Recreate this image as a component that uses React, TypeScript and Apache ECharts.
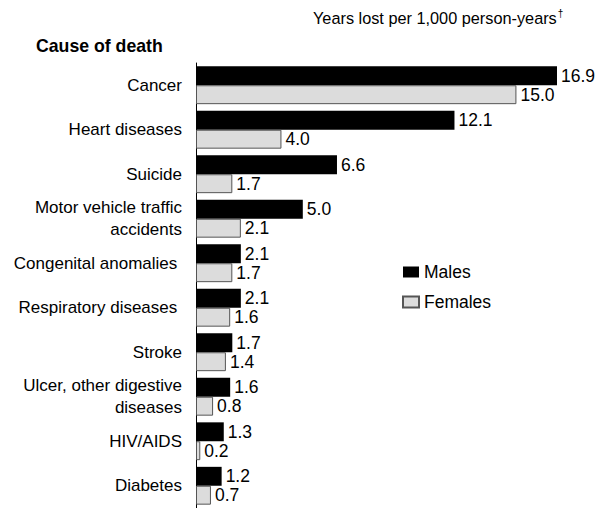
import React, { useEffect, useRef } from "react";
import * as echarts from "echarts";

const categories = [
  "Cancer",
  "Heart diseases",
  "Suicide",
  "Motor vehicle traffic\naccidents",
  "Congenital anomalies ",
  "Respiratory diseases ",
  "Stroke",
  "Ulcer, other digestive\ndiseases",
  "HIV/AIDS",
  "Diabetes",
];
const males = [16.9, 12.1, 6.6, 5.0, 2.1, 2.1, 1.7, 1.6, 1.3, 1.2];
const females = [15.0, 4.0, 1.7, 2.1, 1.7, 1.6, 1.4, 0.8, 0.2, 0.7];

const FONT = "Liberation Sans, Arial, sans-serif";

export default function App() {
  const ref = useRef<HTMLDivElement>(null);
  useEffect(() => {
    if (!ref.current) return;
    const chart = echarts.init(ref.current, undefined, { renderer: "svg" });
    const labelStyle = {
      show: true,
      position: "right" as const,
      distance: 4,
      color: "#000",
      fontSize: 17.5,
      fontFamily: FONT,
      formatter: (p: any) => Number(p.value).toFixed(1),
    };
    chart.setOption({
      animation: false,
      backgroundColor: "#fff",
      textStyle: { fontFamily: FONT },
      graphic: [
        {
          type: "text",
          left: 313,
          top: 8,
          style: {
            text: "{a|Years lost per 1,000 person-years}{b|†}",
            fontFamily: FONT,
            fill: "#000",
            rich: {
              a: { fontSize: 16.3, fontFamily: FONT, color: "#000" },
              b: { fontSize: 10, fontFamily: FONT, color: "#000", padding: [0, 0, 9, 1] },
            },
          },
        },
        {
          type: "text",
          left: 36,
          top: 37,
          style: { text: "Cause of death", fontSize: 17.7, fontWeight: "bold", fontFamily: FONT, fill: "#000" },
        },
      ],
      legend: {
        orient: "vertical",
        left: 397,
        top: 258,
        itemGap: 12,
        itemWidth: 16,
        itemHeight: 11,
        icon: "rect",
        textStyle: { fontSize: 17.5, fontFamily: FONT, color: "#000" },
        data: ["Males", "Females"],
      },
      grid: { left: 196, top: 63, width: 384.5, height: 450 },
      xAxis: {
        type: "value",
        min: 0,
        max: 18,
        show: false,
      },
      yAxis: {
        type: "category",
        data: categories,
        inverse: true,
        axisLine: { show: true, lineStyle: { color: "#000", width: 1 } },
        axisTick: { show: false },
        axisLabel: {
          margin: 14,
          fontSize: 17,
          fontFamily: FONT,
          color: "#000",
          lineHeight: 22,
          align: "right",
        },
      },
      series: [
        {
          name: "Males",
          type: "bar",
          data: males,
          barCategoryGap: "15%",
          barGap: "0%",
          itemStyle: { color: "#000" },
          label: labelStyle,
        },
        {
          name: "Females",
          type: "bar",
          data: females,
          barCategoryGap: "15%",
          barGap: "0%",
          itemStyle: { color: "#dcdcdc", borderColor: "#555", borderWidth: 1 },
          label: labelStyle,
        },
      ],
    });
    return () => chart.dispose();
  }, []);
  return (
    <div
      ref={ref}
      style={{ position: "fixed", left: 0, top: 0, width: 602, height: 508 }}
    />
  );
}
